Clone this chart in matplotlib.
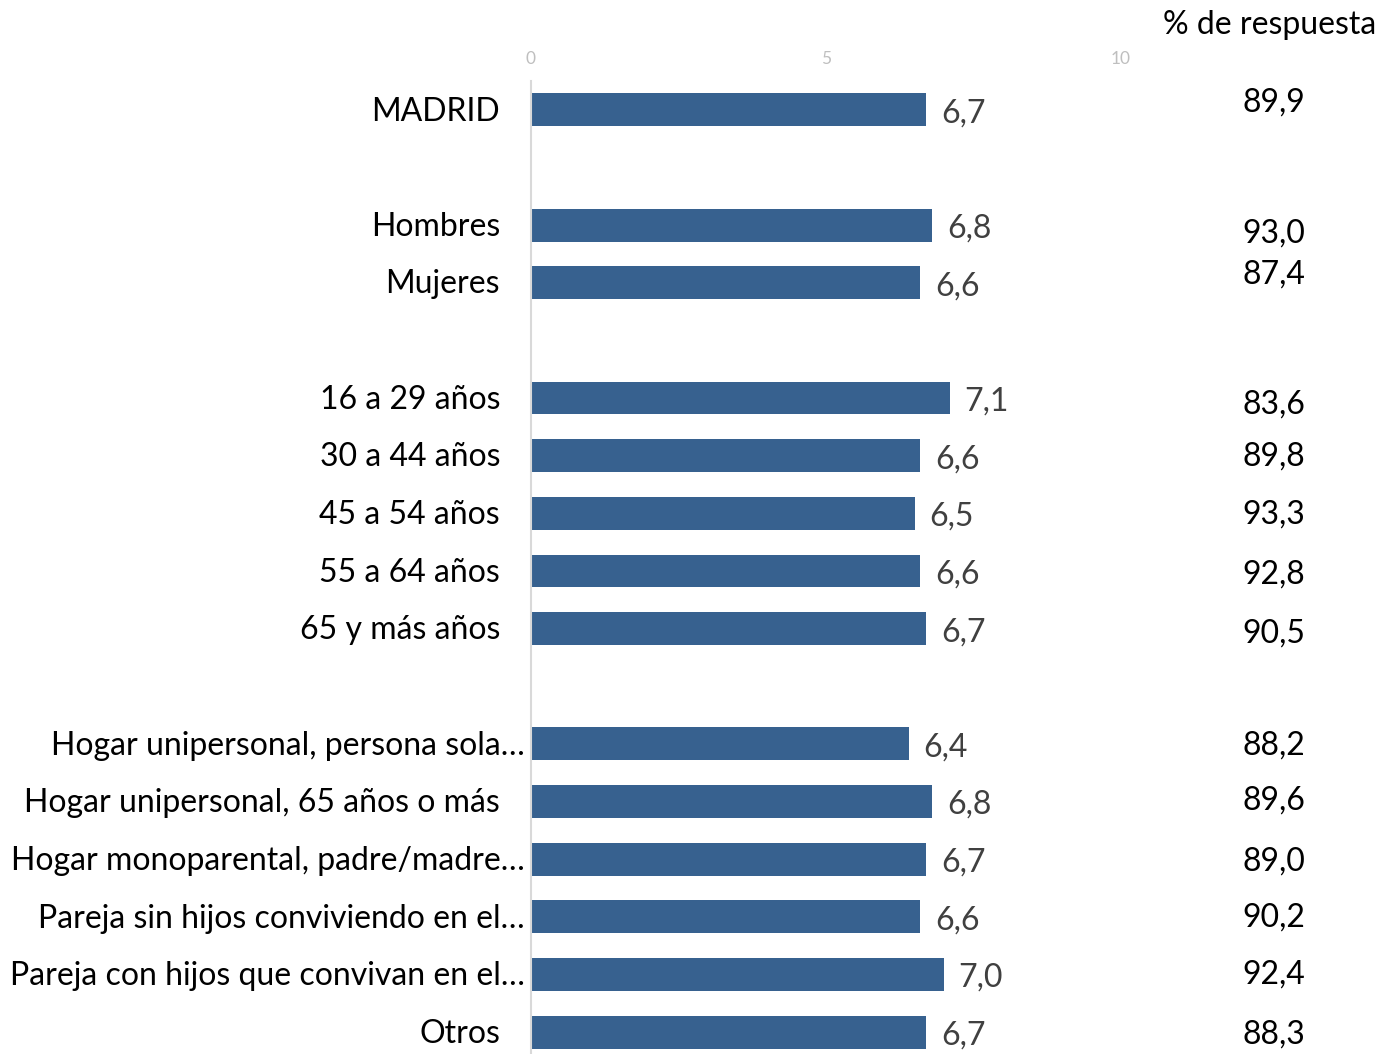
import matplotlib.pyplot as plt

plt.rcParams['font.family'] = ['Lato', 'DejaVu Sans']

# categories, with empty slots between groups
categorias = ['MADRID', '',
              'Hombres', 'Mujeres', '',
              '16 a 29 años', '30 a 44 años', '45 a 54 años', '55 a 64 años', '65 y más años', '',
              'Hogar unipersonal, persona sola…', 'Hogar unipersonal, 65 años o más',
              'Hogar monoparental, padre/madre…', 'Pareja sin hijos conviviendo en el…',
              'Pareja con hijos que convivan en el…', 'Otros']
valores = [6.7, None,
           6.8, 6.6, None,
           7.1, 6.6, 6.5, 6.6, 6.7, None,
           6.4, 6.8, 6.7, 6.6, 7.0, 6.7]
respuesta = ['89,9', '',
             '93,0', '87,4', '',
             '83,6', '89,8', '93,3', '92,8', '90,5', '',
             '88,2', '89,6', '89,0', '90,2', '92,4', '88,3']
# small vertical shifts of the response column (in rows), as in the original
resp_shift = [-0.14, 0, 0.12, -0.17, 0, 0.09, 0, 0, 0.04, 0.07, 0,
              0, -0.03, 0.02, 0, -0.02, 0.03]

color_barra = '#37618F'
fs = 23

fig = plt.figure(figsize=(13.81, 10.54), dpi=100)
ax = fig.add_axes([531/1381, 0, 590/1381, 1 - 81/1054])

for i, v in enumerate(valores):
    if v is None:
        continue
    ax.barh(i, v, height=0.57, color=color_barra)
    ax.text(v + 0.25, i + 0.06, f'{v:.1f}'.replace('.', ','), va='center', ha='left',
            fontsize=fs, color='#404040')
    # category label
    xl = -6/590 if categorias[i].endswith('…') else -31/590
    ax.text(xl, i + 0.03, categorias[i], transform=ax.get_yaxis_transform(), ha='right',
            va='center', fontsize=fs, color='black')
    # response %
    ax.text(13.12, i + resp_shift[i] + 0.02, respuesta[i], ha='right', va='center',
            fontsize=fs, color='black')

fig.text(1376/1381, 1 - 25/1054, '% de respuesta', ha='right', va='center',
         fontsize=fs, color='black')

ax.set_xlim(0, 10)
ax.set_ylim(16.38, -0.5)
ax.xaxis.tick_top()
ax.set_xticks([0, 5, 10])
ax.tick_params(axis='x', length=0, pad=10, labelsize=12.5, labelcolor='#BFBFBF')
ax.set_yticks([])
for s in ['top', 'right', 'bottom']:
    ax.spines[s].set_visible(False)
ax.spines['left'].set_color('#D9D9D9')
ax.spines['left'].set_linewidth(1.5)
ax.patch.set_alpha(0)

fig.savefig('out.png', dpi=100)
